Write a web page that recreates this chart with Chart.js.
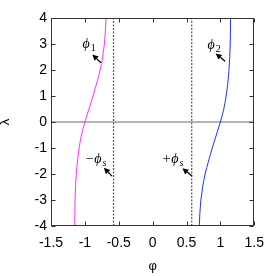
<!DOCTYPE html>
<html><head><meta charset="utf-8">
<script src="https://cdn.jsdelivr.net/npm/chart.js@4"></script>
<style>html,body{margin:0;padding:0;background:#fff;}canvas{display:block;}</style>
</head><body>
<canvas id="c" width="273" height="276"></canvas>
<script>
// ---- data ----
const lambdaValues = [-4, -3.5, -3, -2.5, -2, -1.5, -1, -0.5, 0, 0.5, 1, 1.5, 2, 2.5, 3, 3.5, 4];
const phi1Values = [-1.15, -1.148, -1.145, -1.138, -1.127, -1.11, -1.085, -1.05, -1.0, -0.94, -0.88, -0.825, -0.775, -0.738, -0.712, -0.697, -0.688];
const phi2Values = [0.688, 0.697, 0.712, 0.738, 0.775, 0.825, 0.88, 0.94, 1.0, 1.05, 1.085, 1.11, 1.127, 1.138, 1.145, 1.148, 1.15];
const phiSpinodal = 0.577;
const xTickValues = [-1.5, -1, -0.5, 0, 0.5, 1, 1.5];
const yTickValues = [-4, -3, -2, -1, 0, 1, 2, 3, 4];
const xRange = [-1.5, 1.5];
const yRange = [-4, 4];
// annotation anchors (data coordinates)
const labelPrefix = ['', '', '−', '+'];
const labelMain = ['ϕ', 'ϕ', 'ϕ', 'ϕ'];
const labelSub = ['1', '2', 's', 's'];
const labelAnchor = [[-1.034, 2.83], [0.808, 2.81], [-0.985, -1.58], [0.15, -1.58]];
const arrowTail = [[-0.765, 2.28], [1.07, 2.34], [-0.60, -2.08], [0.58, -2.08]];
const arrowHead = [[-0.89, 2.60], [0.93, 2.635], [-0.72, -1.76], [0.44, -1.78]];

const curve1 = lambdaValues.map((l, i) => ({x: phi1Values[i], y: l}));
const curve2 = lambdaValues.map((l, i) => ({x: phi2Values[i], y: l}));
const spinL = yRange.map(l => ({x: -phiSpinodal, y: l}));
const spinR = yRange.map(l => ({x: phiSpinodal, y: l}));
const zeroLine = xRange.map(p => ({x: p, y: 0}));

const framePlugin = {
  id: 'frame',
  afterDraw(chart) {
    const {ctx, chartArea: a, scales: {x, y}} = chart;
    ctx.save();
    const L = Math.round(a.left) + 0.5, R = Math.round(a.right) - 0.5;
    const T = Math.round(a.top) + 0.5, B = Math.round(a.bottom) - 0.5;
    ctx.strokeStyle = '#333';
    ctx.lineWidth = 1;
    ctx.strokeRect(L, T, R - L, B - T);
    const tl = 4;
    ctx.beginPath();
    xTickValues.forEach(v => {
      const px = Math.round(x.getPixelForValue(v)) + 0.5;
      ctx.moveTo(px, B); ctx.lineTo(px, B - tl);
      ctx.moveTo(px, T); ctx.lineTo(px, T + tl);
    });
    yTickValues.forEach(v => {
      const py = Math.round(y.getPixelForValue(v)) + 0.5;
      ctx.moveTo(L, py); ctx.lineTo(L + tl, py);
      ctx.moveTo(R, py); ctx.lineTo(R - tl, py);
    });
    ctx.stroke();
    // arrows
    ctx.strokeStyle = '#000';
    ctx.fillStyle = '#000';
    ctx.lineWidth = 1.3;
    arrowTail.forEach((t, i) => {
      const x0 = x.getPixelForValue(t[0]), y0 = y.getPixelForValue(t[1]);
      const h = arrowHead[i];
      const x1 = x.getPixelForValue(h[0]), y1 = y.getPixelForValue(h[1]);
      const ang = Math.atan2(y1 - y0, x1 - x0);
      const hl = 6, hw = 3;
      const bx = x1 - hl * Math.cos(ang), by = y1 - hl * Math.sin(ang);
      ctx.beginPath(); ctx.moveTo(x0, y0); ctx.lineTo(bx, by); ctx.stroke();
      ctx.beginPath();
      ctx.moveTo(x1, y1);
      ctx.lineTo(bx + hw * Math.sin(ang), by - hw * Math.cos(ang));
      ctx.lineTo(bx - hw * Math.sin(ang), by + hw * Math.cos(ang));
      ctx.closePath(); ctx.fill();
    });
    // labels
    ctx.fillStyle = '#000';
    ctx.textBaseline = 'alphabetic';
    ctx.textAlign = 'left';
    labelAnchor.forEach((p, i) => {
      let px = x.getPixelForValue(p[0]);
      const py = y.getPixelForValue(p[1]);
      if (labelPrefix[i]) {
        ctx.font = '14px "Liberation Serif"';
        ctx.fillText(labelPrefix[i], px, py);
        px += ctx.measureText(labelPrefix[i]).width + 0.5;
      }
      ctx.font = 'italic 14px "Liberation Serif", "DejaVu Serif"';
      ctx.fillText(labelMain[i], px, py);
      px += ctx.measureText(labelMain[i]).width + 1;
      ctx.font = (labelSub[i] === 's' ? 'italic ' : '') + '10px "Liberation Serif"';
      ctx.fillText(labelSub[i], px, py + 3);
    });
    ctx.restore();
  }
};

const tickFont = {family: '"Liberation Sans", Arial, sans-serif', size: 14};

new Chart(document.getElementById('c'), {
  type: 'scatter',
  data: {
    datasets: [
      {data: curve1, showLine: true, indexAxis: 'y', cubicInterpolationMode: 'monotone', borderColor: '#ff33ff', borderWidth: 1, pointRadius: 0},
      {data: curve2, showLine: true, indexAxis: 'y', cubicInterpolationMode: 'monotone', borderColor: '#2233ff', borderWidth: 1, pointRadius: 0},
      {data: spinL, showLine: true, borderColor: '#555', borderWidth: 1.2, borderDash: [2, 1.5], pointRadius: 0},
      {data: spinR, showLine: true, borderColor: '#555', borderWidth: 1.2, borderDash: [2, 1.5], pointRadius: 0},
      {data: zeroLine, showLine: true, borderColor: '#9a9a9a', borderWidth: 1.6, pointRadius: 0}
    ]
  },
  options: {
    responsive: false,
    animation: false,
    devicePixelRatio: 1,
    layout: {padding: {top: 18, right: 14, left: 0, bottom: 0}},
    plugins: {legend: {display: false}, tooltip: {enabled: false}},
    scales: {
      x: {
        type: 'linear', min: xRange[0], max: xRange[1],
        afterBuildTicks: s => { s.ticks = xTickValues.map(v => ({value: v})); },
        afterFit: s => { s.height = 50; },
        ticks: {color: '#000', font: tickFont, padding: 9, maxRotation: 0, callback: v => String(v)},
        grid: {display: false, drawTicks: false},
        border: {display: false},
        title: {display: true, text: 'φ', color: '#000', font: {family: '"Liberation Sans", Arial, sans-serif', size: 13, lineHeight: 1.2}, padding: {top: 0, bottom: 1.5}}
      },
      y: {
        type: 'linear', min: yRange[0], max: yRange[1],
        afterBuildTicks: s => { s.ticks = yTickValues.map(v => ({value: v})); },
        afterFit: s => { s.width = 51; },
        ticks: {color: '#000', font: tickFont, padding: 4, callback: v => String(v)},
        grid: {display: false, drawTicks: false},
        border: {display: false},
        title: {display: true, text: 'λ', color: '#000', font: {family: '"Liberation Sans", Arial, sans-serif', size: 13, lineHeight: 0.85}, padding: {top: 0, bottom: 0}}
      }
    }
  },
  plugins: [framePlugin]
});
</script>
</body></html>
